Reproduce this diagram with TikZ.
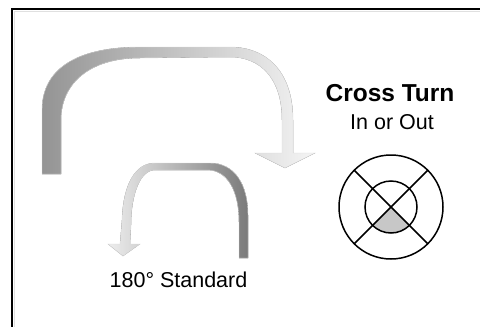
\documentclass[tikz,border=0pt]{standalone}
\usepackage{fontspec}
\setmainfont{Liberation Sans}
\usetikzlibrary{calc}
\tikzset{
  frame/.style  ={line width=2.4pt, draw=black},
  shadow/.style ={line width=1pt, draw=black!12},
  bigrib/.style ={draw=black!14, line width=0.4pt, left color=black!42, middle color=black!30, right color=black!4},
  smallrib/.style={draw=black!14, line width=0.4pt, left color=black!7, middle color=black!38, right color=black!52},
  ring/.style   ={draw=black, line width=1.5pt},
  ttl/.style    ={font=\fontsize{24.5}{28}\selectfont\bfseries, anchor=base, inner sep=0pt},
  lbl/.style    ={font=\fontsize{21.5}{25}\selectfont, anchor=base, inner sep=0pt},
}
\begin{document}
\begin{tikzpicture}[x=1pt,y=-1pt]
\useasboundingbox (0,0) rectangle (480,327);
\draw[shadow] (14.5,327) -- (14.5,11) -- (480,11);
\draw[frame] (12.2,327) -- (12.2,9) -- (480,9);
\fill[bigrib] (42,174) -- (42,110) .. controls (42,72) and (72,47) .. (140,47) -- (230,47)
  .. controls (265,47) and (293,70) .. (293,120) -- (293,153) -- (315,153) -- (285,168)
  -- (255,153) -- (282,153) -- (282,120) .. controls (282,78) and (260,57) .. (230,57)
  -- (140,58) .. controls (88,58) and (61,85) .. (61,120) -- (61,174) -- cycle;
\fill[smallrib] (248,258) -- (248,215) .. controls (248,185) and (235,163) .. (210,163)
  -- (155,163) .. controls (135,163) and (123,185) .. (122,220) -- (120,244) -- (108,244)
  -- (123,256) -- (140,244) -- (130,244) -- (131,225) .. controls (131,195) and (140,170) .. (155,170)
  -- (207,170) .. controls (228,170) and (239,192) .. (239,222) -- (239,258) -- cycle;
\node[ttl] (cross) at (390,101) {Cross Turn};
\node[lbl] (inout) at (392,129) {In or Out};
\node[lbl] (std) at (178.5,287) {180° Standard};
\coordinate (ctr) at (391,207);
\begin{scope}
  \clip (ctr) circle (26);
  \fill[black!22] (ctr) -- +(40,40) -- +(-40,40) -- cycle;
\end{scope}
\draw[ring] (ctr) circle (52);
\draw[ring] (ctr) circle (26);
\draw[ring] ($(ctr)+(-36.8,-36.8)$) -- ($(ctr)+(36.8,36.8)$);
\draw[ring] ($(ctr)+(36.8,-36.8)$) -- ($(ctr)+(-36.8,36.8)$);
\end{tikzpicture}
\end{document}
